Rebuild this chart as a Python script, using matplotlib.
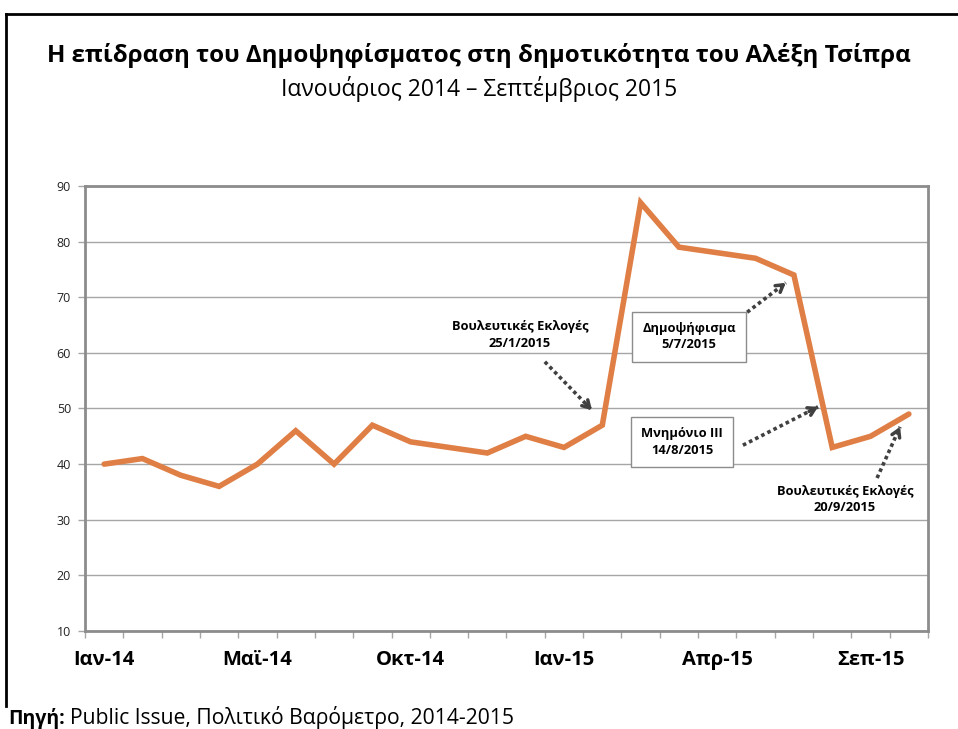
import matplotlib
matplotlib.use('Agg')
import matplotlib.pyplot as plt
from matplotlib.lines import Line2D

plt.rcParams['font.family'] = ['Open Sans', 'DejaVu Sans']

# δημοτικότητα ανά μέτρηση (Public Issue)
values = [40, 41, 38, 36, 40, 46, 40, 47, 44, 43, 42, 45, 43, 47,
          87, 79, 78, 77, 74, 43, 45, 49]
label_pos = [0, 4, 8, 12, 16, 20]
labels = ['Ιαν-14', 'Μαϊ-14', 'Οκτ-14', 'Ιαν-15', 'Απρ-15', 'Σεπ-15']
y_ticks = [10, 20, 30, 40, 50, 60, 70, 80, 90]

title = 'Η επίδραση του Δημοψηφίσματος στη δημοτικότητα του Αλέξη Τσίπρα'
subtitle = 'Ιανουάριος 2014 – Σεπτέμβριος 2015'

fig = plt.figure(figsize=(9.58, 7.29), dpi=100)
ax = fig.add_axes([0.0887, 0.1344, 0.88, 0.6105])

x = list(range(len(values)))
ax.plot(x, values, color='#e07f45', linewidth=4, solid_joinstyle='miter',
        solid_capstyle='round', zorder=3)

ax.set_xlim(-0.5, len(values) - 0.5)
ax.set_ylim(10, 90)
ax.set_yticks(y_ticks)
ax.set_yticklabels([str(v) for v in y_ticks], fontsize=9, color='#222222')
ax.yaxis.grid(True, color='#a6a6a6', linewidth=1)
ax.set_axisbelow(True)

ax.set_xticks(label_pos)
ax.set_xticklabels(labels, fontsize=14.5, fontweight='bold')
ax.set_xticks([i - 0.5 for i in range(len(values) + 1)], minor=True)
ax.tick_params(axis='x', which='major', length=0, pad=14)
ax.tick_params(axis='x', which='minor', length=5, color='#a6a6a6', width=1)
ax.tick_params(axis='y', length=5, color='#a6a6a6', width=1, pad=5)

for s in ax.spines.values():
    s.set_color('#8c8c8c')
    s.set_linewidth(2)

ann_font = dict(fontsize=9.3, fontweight='bold', ha='center', va='center',
                linespacing=1.35)
box = dict(boxstyle='square,pad=0.8', fc='white', ec='#8c8c8c', lw=1)


def dotted_arrow(x0, y0, x1, y1):
    ax.annotate('', xy=(x1, y1), xytext=(x0, y0),
                arrowprops=dict(arrowstyle='-', linestyle=(0, (1, 0.9)),
                                capstyle='butt', color='#404040', lw=2.6,
                                shrinkA=0, shrinkB=0))
    dx, dy = x1 - x0, y1 - y0
    ax.annotate('', xy=(x1, y1), xytext=(x1 - 0.12 * dx, y1 - 0.12 * dy),
                arrowprops=dict(arrowstyle='->,head_length=0.5,head_width=0.3',
                                color='#404040', lw=2.5, shrinkA=0, shrinkB=0))


ax.text(10.85, 63.2, 'Βουλευτικές Εκλογές\n25/1/2015', **ann_font)
dotted_arrow(11.5, 58.4, 12.73, 49.7)

ax.text(15.26, 62.9, 'Δημοψήφισμα\n5/7/2015', bbox=box, **ann_font)
dotted_arrow(16.78, 67.3, 17.79, 72.6)

ax.text(15.08, 44.0, 'Μνημόνιο ΙΙΙ\n14/8/2015', bbox=box, **ann_font)
dotted_arrow(16.67, 43.4, 18.63, 50.3)

ax.text(19.33, 33.6, 'Βουλευτικές Εκλογές\n20/9/2015', **ann_font)
dotted_arrow(20.17, 37.5, 20.77, 46.7)

fig.text(0.5, 1 - 55 / 729, title, ha='center', va='center',
         fontsize=17.4, fontweight='bold')
fig.text(0.5, 1 - 89 / 729, subtitle, ha='center', va='center', fontsize=16.5)

# πηγή
base_y = 1 - 724 / 729
src = fig.text(8 / 958, base_y, 'Πηγή:', ha='left', va='baseline',
               fontsize=14, fontweight='bold')
renderer = fig.canvas.get_renderer()
bb = src.get_window_extent(renderer)
fig.text((bb.x1 + 5) / fig.bbox.width, base_y,
         'Public Issue, Πολιτικό Βαρόμετρο, 2014-2015',
         ha='left', va='baseline', fontsize=15.2)

# πλαίσιο γύρω από το γράφημα
fig.add_artist(Line2D([6 / 958, 1.0], [1 - 14 / 729, 1 - 14 / 729],
                      transform=fig.transFigure, color='black', lw=2))
fig.add_artist(Line2D([6 / 958, 6 / 958], [1 - 14 / 729, 1 - 706 / 729],
                      transform=fig.transFigure, color='black', lw=2))

fig.savefig('out.png', dpi=100)
